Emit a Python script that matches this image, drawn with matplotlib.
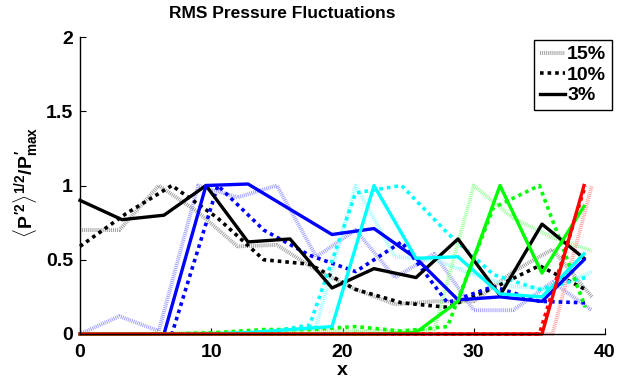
import matplotlib
matplotlib.use("Agg")
import matplotlib.pyplot as plt
from matplotlib.lines import Line2D

plt.rcParams['font.family'] = ['Liberation Sans', 'DejaVu Sans']
plt.rcParams['font.weight'] = 'bold'
plt.rcParams['mathtext.fontset'] = 'custom'
plt.rcParams['mathtext.rm'] = 'Liberation Sans:bold'
plt.rcParams['mathtext.it'] = 'Liberation Sans:bold'
plt.rcParams['mathtext.bf'] = 'Liberation Sans:bold'

# x grids of the three cases
x3 = [0, 3.2, 6.4, 9.6, 12.8, 16, 19.2, 22.4, 25.6, 28.8, 32, 35.2, 38.4]
x10 = [0, 3.5, 7, 10.5, 14, 17.5, 21, 24.5, 28, 31.5, 35, 38.5]
x15 = [0, 3, 6, 9, 12, 15, 18, 21, 24, 27, 30, 33, 36, 39]

# 3% (solid)
black3 = [0.90, 0.77, 0.80, 1.00, 0.62, 0.64, 0.31, 0.44, 0.38, 0.64, 0.26, 0.74, 0.51]
blue3 = [0, 0, 0, 1.00, 1.01, 0.84, 0.67, 0.71, 0.51, 0.23, 0.25, 0.22, 0.50]
cyan3 = [0, 0, 0, 0, 0.01, 0.03, 0.05, 1.00, 0.51, 0.52, 0.27, 0.25, 0.54]
green3 = [0, 0, 0, 0, 0, 0, 0, 0, 0.01, 0.22, 1.00, 0.41, 0.86]
red3 = [0, 0, 0, 0, 0, 0, 0, 0, 0, 0, 0, 0, 1.00]

# 10% (dotted)
black10 = [0.59, 0.81, 1.00, 0.78, 0.50, 0.47, 0.30, 0.21, 0.18, 0.31, 0.46, 0.30]
blue10 = [0, 0, 0, 1.00, 0.70, 0.53, 0.42, 0.62, 0.21, 0.32, 0.22, 0.21]
cyan10 = [0, 0, 0, 0, 0.01, 0.06, 0.95, 1.00, 0.68, 0.40, 0.30, 0.38]
green10 = [0, 0, 0, 0.01, 0.03, 0.03, 0.05, 0.02, 0.05, 0.85, 1.00, 0.18]
red10 = [0, 0, 0, 0, 0, 0, 0, 0, 0, 0, 0, 1.00]

# 15% (light, fine dotted)
black15 = [0.70, 0.70, 1.00, 0.82, 0.59, 0.60, 0.43, 0.30, 0.20, 0.22, 0.22, 0.42, 0.57, 0.25]
blue15 = [0, 0.12, 0.02, 1.00, 0.92, 1.00, 0.52, 0.70, 0.38, 0.54, 0.16, 0.16, 0.35, 0.16]
cyan15 = [0, 0, 0, 0, 0, 0.01, 0.05, 1.00, 0.52, 0.50, 0.40, 0.32, 0.30, 0.42]
green15 = [0, 0, 0, 0.01, 0.01, 0.01, 0.02, 0.02, 0.02, 0.03, 1.00, 0.78, 0.65, 0.56]
red15 = [0, 0, 0, 0, 0, 0, 0, 0, 0, 0, 0, 0, 0, 1.00]

legend_labels = ['15%', '10%', '3%']

colors = ['#000000', '#0000ff', '#00ffff', '#00ff00', '#ff0000']
light = ['#a0a0a0', '#a0a0ff', '#99ffff', '#99ff99', '#ffa0a0']

fig = plt.figure(figsize=(6.35, 3.81), dpi=100)
ax = fig.add_axes([80/635, 47/381, 525/635, 297/381])

ls15 = (0, (0.25, 0.25))
ls10 = (0, (1.0, 1.1))
for y, c in zip([black15, blue15, cyan15, green15, red15], light):
    ax.plot(x15, y, color=c, lw=2.8, linestyle=ls15, clip_on=False)
for y, c in zip([black10, blue10, cyan10, green10, red10], colors):
    ax.plot(x10, y, color=c, lw=2.6, linestyle=ls10, clip_on=False)
for y, c in zip([black3, blue3, cyan3, green3, red3], colors):
    ax.plot(x3, y, color=c, lw=2.4, linestyle='-', clip_on=False)

ax.set_xlim(0, 40)
ax.set_ylim(0, 2)
ax.set_xticks([0, 10, 20, 30, 40])
ax.set_yticks([0, 0.5, 1, 1.5, 2])
ax.set_yticklabels(['0', '0.5', '1', '1.5', '2'])
ax.spines['top'].set_visible(False)
ax.spines['right'].set_visible(False)
for s in ['left', 'bottom']:
    ax.spines[s].set_linewidth(1.0)
ax.tick_params(direction='in', length=4, width=0.8, labelsize=14)
ax.tick_params(axis='x', pad=7)
ax.tick_params(axis='y', pad=5)
for lab in ax.get_xticklabels() + ax.get_yticklabels():
    lab.set_fontweight('bold')

ax.set_xlabel('x', fontsize=14, fontweight='bold')
ax.xaxis.set_label_coords(0.5, -0.095)
ax.set_ylabel(r"$\langle P^{\prime 2}\rangle^{1/2}/P^{\prime}_{max}$", fontsize=14)
ax.yaxis.set_label_coords(-0.077, 0.51)

fig.text(282/635, 1 - 14/381, 'RMS Pressure Fluctuations', ha='center', va='center',
         fontsize=12.5, fontweight='bold')

handles = [Line2D([], [], color=light[0], lw=2.8, linestyle=ls15),
           Line2D([], [], color='k', lw=2.6, linestyle=ls10),
           Line2D([], [], color='k', lw=2.4, linestyle='-')]
leg = ax.legend(handles, legend_labels, loc='upper right', bbox_to_anchor=(612/635, 1 - 40/381),
                bbox_transform=fig.transFigure, fontsize=14, handlelength=1.3,
                handletextpad=0.1, borderpad=0.3, labelspacing=0.15, fancybox=False,
                framealpha=1, borderaxespad=0)
leg.get_frame().set_edgecolor('black')
leg.get_frame().set_linewidth(1.0)
for t in leg.get_texts():
    t.set_fontweight('bold')

fig.savefig('out.png', dpi=100)
